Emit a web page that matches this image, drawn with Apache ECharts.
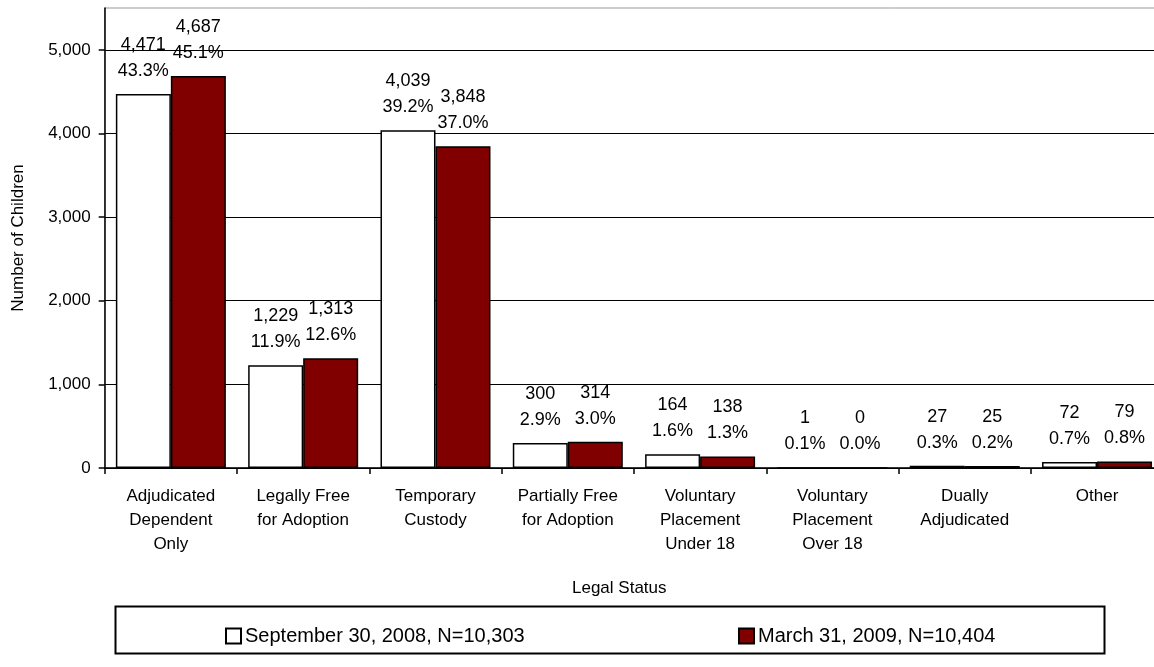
<!DOCTYPE html>
<html>
<head>
<meta charset="utf-8">
<script src="https://cdn.jsdelivr.net/npm/echarts@6/dist/echarts.min.js"></script>
<style>
html,body{margin:0;padding:0;background:#fff;overflow:hidden;}
#chart{width:1154px;height:667px;}
</style>
</head>
<body>
<div id="chart"></div>
<script>
const categories = ["Adjudicated\nDependent\nOnly", "Legally Free\nfor Adoption", "Temporary\nCustody", "Partially Free\nfor Adoption", "Voluntary\nPlacement\nUnder 18", "Voluntary\nPlacement\nOver 18", "Dually\nAdjudicated", "Other"];
const seriesNames = ["September 30, 2008, N=10,303", "March 31, 2009, N=10,404"];
const sep2008 = [4471, 1229, 4039, 300, 164, 1, 27, 72];
const mar2009 = [4687, 1313, 3848, 314, 138, 0, 25, 79];
const sep2008Pct = ["43.3%", "11.9%", "39.2%", "2.9%", "1.6%", "0.1%", "0.3%", "0.7%"];
const mar2009Pct = ["45.1%", "12.6%", "37.0%", "3.0%", "1.3%", "0.0%", "0.2%", "0.8%"];
const yTicks = [0, 1000, 2000, 3000, 4000, 5000];
const yAxisTitle = "Number of Children";
const xAxisTitle = "Legal Status";

const FONT = "'Liberation Sans', Arial, sans-serif";
const fmt = v => v.toLocaleString('en-US');

function labelFor(pcts) {
  return {
    show: true,
    position: 'top',
    distance: 10,
    color: '#000',
    fontFamily: FONT,
    fontSize: 18,
    lineHeight: 26,
    formatter: p => fmt(p.value) + '\n' + pcts[p.dataIndex]
  };
}

const chart = echarts.init(document.getElementById('chart'), null, {renderer: 'canvas'});
chart.setOption({
  animation: false,
  backgroundColor: '#fff',
  textStyle: {fontFamily: FONT},
  grid: {left: 104.7, width: 1058.5, top: 8, height: 460, outerBoundsMode: 'none', containLabel: false,
         show: true, borderColor: '#999', borderWidth: 1, backgroundColor: 'transparent'},
  xAxis: {
    type: 'category',
    data: categories,
    axisLine: {lineStyle: {color: '#000', width: 1.5}},
    axisTick: {show: true, length: 6, lineStyle: {color: '#000', width: 1.5}},
    axisLabel: {color: '#000', fontFamily: FONT, fontSize: 17, lineHeight: 24, margin: 16, interval: 0}
  },
  yAxis: {
    type: 'value',
    min: 0,
    max: 5500,
    interval: 1000,
    name: yAxisTitle,
    nameLocation: 'middle',
    nameGap: 78,
    nameTextStyle: {color: '#000', fontFamily: FONT, fontSize: 17},
    axisLine: {show: true, lineStyle: {color: '#000', width: 1.5}},
    axisTick: {show: true, length: 6, customValues: yTicks, lineStyle: {color: '#000', width: 1.5}},
    axisLabel: {
      color: '#000', fontFamily: FONT, fontSize: 17, margin: 14, customValues: yTicks,
      formatter: v => fmt(v)
    },
    splitLine: {show: true, showMaxLine: true, lineStyle: {color: '#000', width: 1.2}}
  },
  legend: [
    {
      data: [seriesNames[0]], left: 220, top: 621, itemWidth: 15, itemHeight: 15, itemGap: 4, icon: 'rect',
      textStyle: {color: '#000', fontFamily: FONT, fontSize: 20, padding: [0, 0, 0, -1]}
    },
    {
      data: [seriesNames[1]], left: 733, top: 621, itemWidth: 15, itemHeight: 15, itemGap: 4, icon: 'rect',
      textStyle: {color: '#000', fontFamily: FONT, fontSize: 20, padding: [0, 0, 0, -1]}
    }
  ],
  graphic: [
    {type: 'rect', left: 113, top: 604, shape: {width: 989, height: 47}, style: {fill: 'none', stroke: '#000', lineWidth: 2}, z: -1},
    {type: 'text', left: 572, top: 580, style: {text: xAxisTitle, fill: '#000', font: '17px ' + FONT}}
  ],
  series: [
    {
      name: seriesNames[0], type: 'bar', data: sep2008, barWidth: 55, barGap: '0%',
      itemStyle: {color: '#ffffff', borderColor: '#000', borderWidth: 1.5},
      label: labelFor(sep2008Pct)
    },
    {
      name: seriesNames[1], type: 'bar', data: mar2009, barWidth: 55, barGap: '0%',
      itemStyle: {color: '#800000', borderColor: '#000', borderWidth: 1.5},
      label: labelFor(mar2009Pct)
    }
  ]
});
</script>
</body>
</html>
